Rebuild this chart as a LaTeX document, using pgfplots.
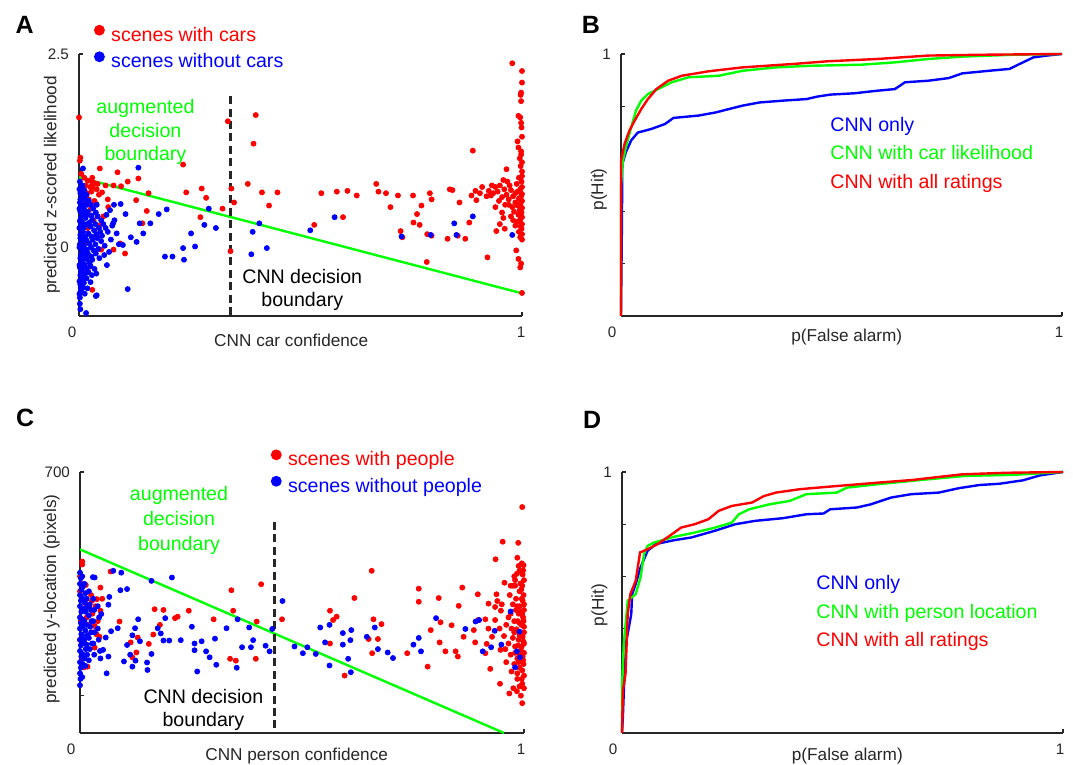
\documentclass[border=0pt]{standalone}
\usepackage{fontspec}
\setmainfont{Liberation Sans}
\usepackage{pgfplots}
\pgfplotsset{compat=1.18}
\definecolor{mred}{RGB}{255,0,0}
\definecolor{mblue}{RGB}{0,0,255}
\definecolor{mgreen}{RGB}{0,255,0}
\definecolor{axgray}{RGB}{38,38,38}
\newcommand{\legfont}{\fontsize{9.8}{11.8}\selectfont}
\newcommand{\labfont}{\fontsize{8.6}{10.3}\selectfont}
\newcommand{\tickfont}{\fontsize{7.6}{9}\selectfont}
\newcommand{\letfont}{\bfseries\fontsize{12.5}{15}\selectfont}

\pgfplotsset{
  panel/.style={
    scale only axis, anchor=south west, clip=false,
    axis lines=left, axis line style={-, draw=axgray, line width=0.65pt},
    tick align=inside, major tick length=2pt,
    every tick/.style={axgray, line width=0.65pt},
    xmin=0, xmax=1, xtick={0}, extra x ticks={1},
    ticklabel style={font=\tickfont, text=axgray},
    xticklabel style={xshift=-3.5pt, yshift=-2pt},
    extra x tick style={xticklabel style={xshift=3pt}},
    yticklabel style={xshift=-1.5pt},
    /pgf/number format/assume math mode=true,
    label style={font=\labfont, text=axgray},
    legend cell align=left,
    legend style={draw=none, fill=none, inner sep=0pt, font=\legfont,
      nodes={inner sep=0pt, text height=7.5pt, text depth=2.5pt},
      anchor=north west},
  },
  reddots/.style={only marks, mark=*, mark size=1.25pt, color=mred, mark options={draw=none},
    legend image code/.code={\fill[mred] (0pt,3pt) circle (2.5pt);}},
  bluedots/.style={only marks, mark=*, mark size=1.25pt, color=mblue, mark options={draw=none},
    legend image code/.code={\fill[mblue] (0pt,3pt) circle (2.5pt);}},
}

\begin{document}
\begin{tikzpicture}
\path[use as bounding box] (0,0) rectangle (536.5pt,382.5pt);

% ---------------- A ----------------
\begin{axis}[panel, at={(39.5pt,224.5pt)}, width=221.5pt, height=131pt,
  ymin=-0.888, ymax=2.5, ytick={0,2.5}, extra y ticks={1}, extra y tick labels={},
  xlabel={CNN car confidence}, ylabel={predicted z-scored likelihood},
  xlabel style={at={(axis description cs:0.479,-0.092)}, anchor=center},
  ylabel style={at={(axis description cs:-0.061,0.5)}, anchor=center},
  legend style={at={(axis description cs:0.033,1.113)}, row sep=2.6pt, column sep=3.2pt},
]
\addplot[reddots] coordinates {
(0.0,1.68) (0.003,1.16) (0.002,1.12) (0.047,1.02) (0.087,0.97) (0.134,0.89) (0.11,0.85)
(0.078,0.80) (0.095,0.79) (0.157,0.70) (0.129,0.61) (0.153,0.47) (0.143,0.31) (0.066,0.52)
(0.039,0.56) (0.052,0.71) (0.031,0.78) (0.093,0.05) (0.078,-0.03) (0.104,-0.08) (0.05,-0.03)
(0.017,-0.13) (0.009,-0.43) (0.235,1.07) (0.242,0.71) (0.277,0.76) (0.287,0.64) (0.274,0.39)
(0.324,0.50) (0.336,1.63) (0.344,0.76) (0.35,0.58) (0.342,-0.05) (0.381,0.82) (0.394,1.34)
(0.399,1.71) (0.413,0.71) (0.429,0.54) (0.448,0.71)
(0.005,0.95) (0.012,0.90) (0.02,0.86) (0.03,0.84) (0.015,0.80) (0.025,0.78) (0.035,0.83)
(0.008,0.75) (0.018,0.70) (0.028,0.72) (0.042,0.82) (0.045,0.68) (0.01,0.65) (0.022,0.62)
(0.035,0.60) (0.03,0.90) (0.04,0.75) (0.013,0.55) (0.027,0.50) (0.06,0.80) (0.065,0.62)
(0.055,0.40) (0.033,0.35) (0.02,0.25) (0.04,0.15) (0.012,0.05) (0.045,0.28) (0.025,-0.25)
(0.03,-0.55) (0.015,-0.30)
(0.547,0.70) (0.582,0.72) (0.606,0.73) (0.627,0.67) (0.671,0.82) (0.676,0.72) (0.693,0.70)
(0.703,0.52) (0.72,0.67) (0.754,0.67) (0.763,0.43) (0.773,0.54) (0.755,0.32) (0.769,0.29)
(0.726,0.21) (0.73,0.13) (0.786,0.17) (0.796,0.15) (0.792,0.70) (0.796,0.62) (0.837,0.75)
(0.843,0.74) (0.859,0.58) (0.832,0.11) (0.872,0.11) (0.855,0.15) (0.881,0.32) (0.886,0.67)
(0.895,0.73) (0.897,0.61) (0.785,-0.19) (0.596,0.39) (0.531,0.29) (0.91,0.78) (0.905,0.70)
(0.889,1.25)
(0.94,0.78) (0.945,0.72) (0.95,0.80) (0.935,0.70) (0.955,0.65) (0.96,0.75) (0.93,0.67)
(0.948,0.60) (0.962,0.55) (0.94,0.52) (0.955,0.45) (0.965,0.68) (0.958,0.38) (0.942,0.21)
(0.961,0.24) (0.922,-0.13) (0.925,0.73) (0.92,0.66) (0.95,0.30) (0.967,0.85) (0.932,0.80)
(0.958,0.87)
(0.978,2.38) (1.0,2.28) (1.0,2.13) (0.998,2.0) (0.997,1.97) (0.998,1.89) (0.992,1.70)
(0.996,1.68) (0.998,1.61) (0.999,1.55) (1.0,1.43) (0.99,1.37) (0.992,1.29) (0.998,1.24)
(0.998,1.20) (0.995,1.15) (1.0,1.10) (0.997,1.05) (0.965,1.01) (1.0,0.98) (1.0,0.92)
(0.993,0.90) (0.988,0.82) (0.999,0.85) (1.0,0.78) (0.996,0.75) (0.99,0.72) (1.0,0.69)
(0.998,0.66) (0.993,0.63) (1.0,0.60) (0.997,0.57) (0.99,0.54) (1.0,0.51) (0.995,0.48)
(0.999,0.45) (0.992,0.42) (1.0,0.39) (0.996,0.36) (0.99,0.33) (1.0,0.30) (0.997,0.27)
(0.999,0.24) (0.993,0.20) (1.0,0.17) (0.996,0.13) (1.0,0.10) (0.987,-0.04) (0.992,-0.15)
(0.998,-0.21) (0.996,-0.26) (1.0,-0.59) (0.975,0.74) (0.98,0.66) (0.985,0.58) (0.978,0.52)
(0.982,0.46) (0.975,0.40) (0.985,0.70) (0.97,0.62) (0.98,0.35) (0.972,0.80) (0.985,0.28)
(0.97,0.55)
};
\addlegendentry{\textcolor{mred}{scenes with cars}}
\addplot[bluedots] coordinates {
(0.002,0.85) (0.004,0.78) (0.003,0.70) (0.006,0.64) (0.002,0.58) (0.005,0.52) (0.003,0.46)
(0.007,0.40) (0.002,0.34) (0.004,0.28) (0.006,0.22) (0.003,0.16) (0.005,0.10) (0.002,0.04)
(0.004,-0.02) (0.006,-0.08) (0.003,-0.14) (0.005,-0.20) (0.002,-0.26) (0.004,-0.32)
(0.006,-0.40) (0.003,-0.48) (0.005,-0.56) (0.002,-0.65)
(0.001,0.75) (0.003,0.62) (0.001,0.50) (0.004,0.38) (0.001,0.25) (0.003,0.12) (0.001,0.0)
(0.004,-0.11) (0.001,-0.23) (0.003,-0.36) (0.001,-0.44) (0.004,-0.52) (0.001,-0.60)
(0.003,-0.80)
(0.008,0.80) (0.009,0.68) (0.008,0.56) (0.009,0.44) (0.008,0.32) (0.009,0.20) (0.008,0.08)
(0.009,-0.04) (0.008,-0.16) (0.009,-0.28) (0.008,-0.38) (0.009,-0.52)
(0.012,0.74) (0.014,0.62) (0.011,0.50) (0.015,0.38) (0.012,0.26) (0.014,0.14) (0.011,0.02)
(0.015,-0.10) (0.012,-0.22) (0.014,-0.34) (0.011,-0.46) (0.013,-0.60)
(0.017,0.68) (0.018,0.55) (0.017,0.42) (0.018,0.30) (0.017,0.09) (0.018,-0.03)
(0.017,-0.15) (0.018,-0.27) (0.017,-0.40) (0.019,-0.53)
(0.022,0.60) (0.02,0.46) (0.024,0.32) (0.021,0.18) (0.023,0.05) (0.02,-0.08) (0.024,-0.20)
(0.021,-0.32) (0.026,-0.45)
(0.027,0.55) (0.028,0.41) (0.026,0.27) (0.028,0.14) (0.027,0.0) (0.028,-0.12)
(0.026,-0.24) (0.029,-0.36)
(0.032,0.50) (0.03,0.36) (0.034,0.22) (0.031,0.10) (0.033,-0.04) (0.03,-0.16) (0.035,-0.28)
(0.038,0.45) (0.037,0.30) (0.039,0.17) (0.037,0.04) (0.038,-0.08)
(0.042,0.40) (0.045,0.25) (0.041,0.12) (0.044,-0.02) (0.046,-0.14) (0.04,0.55)
(0.05,0.35) (0.048,0.20) (0.05,0.08) (0.06,0.25) (0.057,-0.1)
(0.055,0.30) (0.052,0.15) (0.058,0.02) (0.062,0.42) (0.065,0.20) (0.068,-0.06) (0.075,0.28)
(0.072,0.10) (0.08,0.35) (0.085,0.18) (0.09,0.04) (0.07,0.48)
(0.009,1.02) (0.134,1.03) (0.079,0.55) (0.094,0.56) (0.105,0.43) (0.077,0.31) (0.137,0.31)
(0.161,0.31) (0.18,0.43) (0.198,0.49) (0.145,0.18) (0.13,0.07) (0.117,0.13) (0.099,0.03)
(0.063,-0.23) (0.039,-0.34) (0.038,-0.63) (0.11,-0.54) (0.002,-0.73) (0.016,-0.85)
(0.04,-0.62) (0.194,-0.12) (0.211,-0.12) (0.237,-0.16) (0.235,-0.01) (0.262,0.01)
(0.253,0.18) (0.283,0.29) (0.309,0.25) (0.293,0.50) (0.392,0.20) (0.407,0.31) (0.389,-0.09)
(0.424,-0.01) (0.522,0.22) (0.577,0.39) (0.728,0.14) (0.794,0.16) (0.847,0.31) (0.852,0.16)
(0.889,0.40) (0.978,0.16)
};
\addlegendentry{\textcolor{mblue}{scenes without cars}}
\addplot[mgreen, line width=1.2pt, forget plot] coordinates {(0,0.905) (1,-0.595)};
\addplot[axgray, line width=1.25pt, dash pattern=on 4pt off 2.2pt, forget plot]
  coordinates {(0.342,1.955) (0.342,-0.888)};
\node[anchor=base, text=mgreen, font=\legfont] at (rel axis cs:0.150,0.771) {augmented};
\node[anchor=base, text=mgreen, font=\legfont] at (rel axis cs:0.150,0.682) {decision};
\node[anchor=base, text=mgreen, font=\legfont] at (rel axis cs:0.150,0.592) {boundary};
\node[anchor=base, text=black, font=\legfont] at (rel axis cs:0.504,0.125) {CNN decision};
\node[anchor=base, text=black, font=\legfont] at (rel axis cs:0.504,0.035) {boundary};
\end{axis}

% ---------------- B ----------------
\begin{axis}[panel, at={(310.5pt,224.5pt)}, width=220.5pt, height=131pt,
  ymin=0, ymax=1, ytick={1}, extra y ticks={0.2,0.4,0.6,0.8}, extra y tick labels={},
  xticklabel style={xshift=-1pt},
  xlabel={p(False alarm)}, ylabel={p(Hit)},
  xlabel style={at={(axis description cs:0.512,-0.082)}, anchor=center},
  ylabel style={at={(axis description cs:-0.05,0.483)}, anchor=center},
  legend style={at={(axis description cs:0.474,0.763)}, row sep=4.15pt, column sep=0pt},
  legend image code/.code={},
]
\addplot[mblue, line width=1.2pt] coordinates {
(0,0) (0.002,0.34) (0.003,0.58) (0.011,0.625) (0.023,0.67) (0.038,0.70) (0.069,0.714)
(0.10,0.733) (0.119,0.756) (0.176,0.765) (0.215,0.777) (0.245,0.79) (0.276,0.803)
(0.314,0.815) (0.368,0.822) (0.421,0.828) (0.444,0.837) (0.475,0.845) (0.529,0.85)
(0.582,0.86) (0.621,0.866) (0.644,0.892) (0.697,0.898) (0.743,0.908) (0.774,0.926)
(0.835,0.936) (0.881,0.943) (0.904,0.962) (0.935,0.987) (0.966,0.994) (1,1)};
\addlegendentry{\textcolor{mblue}{CNN only}}
\addplot[mgreen, line width=1.2pt] coordinates {
(0,0) (0,0.50) (0.004,0.59) (0.011,0.644) (0.023,0.72) (0.034,0.784) (0.046,0.822)
(0.061,0.847) (0.084,0.866) (0.115,0.892) (0.153,0.911) (0.222,0.917) (0.276,0.936)
(0.352,0.949) (0.429,0.955) (0.544,0.959) (0.621,0.968) (0.697,0.981) (0.774,0.99)
(0.889,0.997) (1,1)};
\addlegendentry{\textcolor{mgreen}{CNN with car likelihood}}
\addplot[mred, line width=1.2pt] coordinates {
(0,0) (0,0.593) (0.008,0.656) (0.019,0.707) (0.031,0.746) (0.046,0.79) (0.061,0.828)
(0.08,0.866) (0.107,0.898) (0.138,0.917) (0.199,0.934) (0.276,0.949) (0.391,0.962)
(0.467,0.972) (0.582,0.981) (0.697,0.994) (0.812,0.997) (1,1)};
\addlegendentry{\textcolor{mred}{CNN with all ratings}}
\end{axis}

% ---------------- C ----------------
\begin{axis}[panel, at={(40pt,16pt)}, width=222pt, height=130.5pt,
  ymin=0, ymax=700, ytick={700}, extra y ticks={100}, extra y tick labels={},
  xticklabel style={xshift=-1pt},
  xlabel={CNN person confidence}, ylabel={predicted y-location (pixels)},
  xlabel style={at={(axis description cs:0.488,-0.087)}, anchor=center},
  ylabel style={at={(axis description cs:-0.064,0.513)}, anchor=center},
  legend style={at={(axis description cs:0.429,1.088)}, row sep=2.5pt, column sep=3.2pt},
]
\addplot[reddots] coordinates {
(0.996,606) (0.952,513) (0.987,510) (0.936,466) (0.988,448) (0.998,436) (0.984,427)
(0.98,410) (0.992,401) (0.956,403) (0.938,372) (0.92,347) (0.94,354) (0.935,338)
(0.948,328) (0.935,303) (0.913,305) (0.897,303) (0.896,372) (0.861,390) (0.853,341)
(0.837,289) (0.808,362) (0.812,297) (0.79,276) (0.763,387) (0.763,352) (0.864,258)
(0.887,276) (0.89,243) (0.916,239) (0.913,214) (0.947,223) (0.924,172) (0.946,132)
(0.967,106) (0.976,120) (0.984,112) (0.996,80) (0.985,160) (1.0,154) (0.996,132)
(0.99,380) (0.995,360) (1.0,345) (0.985,340) (0.992,325) (0.998,310) (0.97,320)
(0.978,300) (0.99,295) (1.0,285) (0.983,278) (0.995,265) (0.975,255) (0.988,250)
(1.0,240) (0.98,232) (0.993,222) (0.965,240) (0.97,210) (0.985,200) (0.998,195)
(0.978,185) (0.99,175) (0.96,190) (0.972,165) (0.995,145) (0.955,260) (0.96,290)
(0.95,345) (0.968,370) (0.975,395) (0.985,470) (0.995,455) (0.978,420) (0.965,310)
(0.958,225) (0.945,280) (0.928,258) (0.92,280)
(0.999,450) (0.997,425) (1.0,410) (0.996,395) (0.999,370) (0.997,355) (1.0,330)
(0.996,318) (0.999,300) (0.994,290) (1.0,270) (0.997,258) (0.999,245) (0.995,232)
(1.0,215) (0.997,205) (0.999,185) (0.996,168) (1.0,120) (0.993,100) (0.99,340)
(0.988,320) (0.986,300) (0.99,262) (0.987,235) (0.99,210) (0.988,190) (0.982,360)
(0.98,395) (0.982,330) (0.975,345) (0.972,280) (0.978,270) (0.98,215) (0.985,145)
(0.99,125) (0.97,395) (0.99,435) (0.994,385)
(0.657,435) (0.618,362) (0.563,328) (0.57,303) (0.578,312) (0.661,305) (0.679,292)
(0.671,252) (0.65,252) (0.658,214) (0.563,240) (0.596,154) (0.737,214) (0.81,243)
(0.823,219) (0.846,219) (0.851,205) (0.783,178) (0.455,305)
(0.408,399) (0.341,383) (0.345,328) (0.398,299) (0.301,305) (0.245,328) (0.22,312)
(0.214,308) (0.188,330) (0.168,332) (0.18,290) (0.165,264) (0.338,199) (0.351,194)
(0.396,199) (0.155,239) (0.13,256) (0.114,243) (0.127,216) (0.118,203) (0.089,299)
(0.069,433) (0.046,390) (0.038,359) (0.027,355) (0.021,339) (0.046,328) (0.013,347)
(0.005,452) (0.005,460) (0.013,397) (0.033,287) (0.037,265) (0.009,176) (0.017,178)
(0.044,258) (0.033,229)
(0.0,420) (0.003,400) (0.0,380) (0.004,360) (0.002,300) (0.0,250) (0.004,200) (0.01,330)
(0.015,310) (0.02,290) (0.028,320) (0.035,340) (0.025,370) (0.04,300) (0.05,360) (0.03,270)
};
\addlegendentry{\textcolor{mred}{scenes with people}}
\addplot[bluedots] coordinates {
(0.0,430) (0.002,415) (0.0,400) (0.003,385) (0.0,370) (0.002,355) (0.0,340) (0.003,325)
(0.0,310) (0.002,295) (0.0,280) (0.003,265) (0.0,250) (0.002,235) (0.0,220) (0.003,205)
(0.0,190) (0.002,175) (0.0,160) (0.001,145) (0.0,128)
(0.005,420) (0.006,392) (0.005,362) (0.007,333) (0.005,305) (0.006,287) (0.005,262)
(0.007,243) (0.005,212) (0.006,185) (0.005,150)
(0.01,400) (0.012,375) (0.01,350) (0.013,325) (0.01,300) (0.012,275) (0.01,250)
(0.013,225) (0.01,200) (0.012,180)
(0.015,360) (0.016,338) (0.015,290) (0.017,262) (0.015,237) (0.016,210)
(0.02,380) (0.022,345) (0.02,315) (0.023,285) (0.02,255) (0.022,225) (0.02,195)
(0.025,330) (0.026,300) (0.025,270) (0.027,240)
(0.03,360) (0.032,330) (0.03,300) (0.033,270) (0.03,240) (0.032,210)
(0.04,340) (0.043,310) (0.04,280) (0.042,250) (0.045,220)
(0.075,435) (0.093,430) (0.106,386) (0.091,383) (0.066,365) (0.033,417) (0.029,418)
(0.064,344) (0.048,319) (0.161,408) (0.207,417) (0.085,281) (0.07,273) (0.058,256)
(0.052,223) (0.064,205) (0.046,200) (0.060,160) (0.099,192) (0.113,210) (0.125,194)
(0.118,178) (0.131,305) (0.124,281) (0.118,262) (0.106,236) (0.135,246) (0.152,169)
(0.151,189) (0.161,212) (0.175,281) (0.182,267) (0.192,308) (0.188,248) (0.201,248)
(0.227,249) (0.252,285) (0.258,240) (0.258,222) (0.264,165) (0.274,246) (0.284,219)
(0.292,203) (0.304,253) (0.307,183) (0.33,281) (0.353,175) (0.355,305) (0.365,230)
(0.381,283) (0.385,230) (0.39,249) (0.418,234) (0.427,219) (0.433,279) (0.456,354)
(0.483,232) (0.502,214) (0.512,230) (0.531,212) (0.541,283) (0.552,243) (0.562,290)
(0.562,181) (0.592,268) (0.592,237) (0.604,199) (0.61,163) (0.611,276) (0.609,249)
(0.646,258) (0.664,283) (0.671,225) (0.693,216) (0.705,201) (0.751,237) (0.763,255)
(0.768,219) (0.802,308) (0.868,279) (0.891,299) (0.899,303) (0.907,219) (0.934,274)
(0.926,230) (0.949,237) (0.97,326) (0.99,272) (0.984,219) (0.98,176) (0.991,203)
};
\addlegendentry{\textcolor{mblue}{scenes without people}}
\addplot[mgreen, line width=1.2pt, forget plot] coordinates {(0,492.5) (0.955,0)};
\addplot[axgray, line width=1.25pt, dash pattern=on 4pt off 2.2pt, forget plot]
  coordinates {(0.4385,566) (0.4385,0)};
\node[anchor=base, text=mgreen, font=\legfont] at (rel axis cs:0.223,0.890) {augmented};
\node[anchor=base, text=mgreen, font=\legfont] at (rel axis cs:0.223,0.794) {decision};
\node[anchor=base, text=mgreen, font=\legfont] at (rel axis cs:0.223,0.701) {boundary};
\node[anchor=base, text=black, font=\legfont] at (rel axis cs:0.278,0.114) {CNN decision};
\node[anchor=base, text=black, font=\legfont] at (rel axis cs:0.278,0.024) {boundary};
\end{axis}

% ---------------- D ----------------
\begin{axis}[panel, at={(311pt,16pt)}, width=220.5pt, height=130.5pt,
  ymin=0, ymax=1, ytick={1}, extra y ticks={0.2,0.4,0.6,0.8}, extra y tick labels={},
  xticklabel style={xshift=-1pt},
  xlabel={p(False alarm)}, ylabel={p(Hit)},
  xlabel style={at={(axis description cs:0.511,-0.087)}, anchor=center},
  ylabel style={at={(axis description cs:-0.051,0.49)}, anchor=center},
  legend style={at={(axis description cs:0.44,0.608)}, row sep=4.15pt, column sep=0pt},
  legend image code/.code={},
]
\addplot[mblue, line width=1.2pt] coordinates {
(0,0) (0.002,0.061) (0.005,0.20) (0.01,0.354) (0.015,0.399) (0.021,0.456) (0.023,0.532)
(0.031,0.571) (0.042,0.634) (0.058,0.698) (0.077,0.724) (0.119,0.739) (0.157,0.749)
(0.211,0.775) (0.257,0.80) (0.303,0.813) (0.365,0.823) (0.418,0.838) (0.457,0.841)
(0.472,0.857) (0.533,0.864) (0.564,0.876) (0.61,0.902) (0.656,0.915) (0.718,0.921)
(0.764,0.938) (0.81,0.95) (0.856,0.955) (0.909,0.968) (0.948,0.987) (1,1)};
\addlegendentry{\textcolor{mblue}{CNN only}}
\addplot[mgreen, line width=1.2pt] coordinates {
(0,0) (0,0.176) (0.004,0.341) (0.013,0.507) (0.031,0.532) (0.042,0.596) (0.05,0.685)
(0.058,0.717) (0.073,0.73) (0.119,0.752) (0.165,0.768) (0.211,0.787) (0.249,0.806)
(0.265,0.838) (0.288,0.857) (0.334,0.876) (0.38,0.889) (0.418,0.915) (0.487,0.921)
(0.51,0.94) (0.579,0.953) (0.656,0.966) (0.733,0.978) (0.779,0.985) (0.886,0.989) (1,1)};
\addlegendentry{\textcolor{mgreen}{CNN with person location}}
\addplot[mred, line width=1.2pt] coordinates {
(0,0) (0.002,0.163) (0.008,0.227) (0.013,0.456) (0.019,0.532) (0.031,0.583) (0.041,0.692)
(0.058,0.704) (0.081,0.724) (0.111,0.759) (0.134,0.787) (0.165,0.80) (0.196,0.819)
(0.219,0.851) (0.249,0.87) (0.295,0.883) (0.322,0.908) (0.349,0.921) (0.403,0.934)
(0.464,0.943) (0.579,0.959) (0.656,0.969) (0.771,0.991) (0.871,0.997) (1,1)};
\addlegendentry{\textcolor{mred}{CNN with all ratings}}
\end{axis}

\node[font=\letfont] at (12.3pt,370.2pt) {A};
\node[font=\letfont] at (295.5pt,370.2pt) {B};
\node[font=\letfont] at (12.6pt,173.5pt) {C};
\node[font=\letfont] at (296.1pt,172.3pt) {D};
\end{tikzpicture}
\end{document}
